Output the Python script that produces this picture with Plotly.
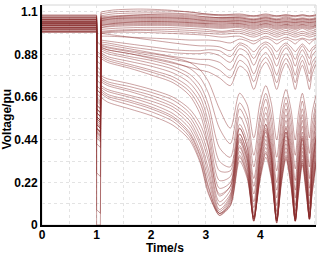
import plotly.graph_objects as go

# ---- time grids ----
T_FAULT = [0.0, 1.0, 1.0, 1.07, 1.08]
T_BAND = [1.08, 1.3, 1.8, 2.3, 2.7, 3.0, 3.3, 3.62, 3.88, 4.1, 4.3, 4.47, 4.64, 4.77, 4.9, 5.02]
T_OSC = [1.08, 1.2, 1.6, 2.0, 2.4, 2.7, 2.9, 3.05, 3.25, 3.45, 3.62, 3.76, 3.88, 4.0, 4.1,
         4.2, 4.3, 4.39, 4.47, 4.56, 4.64, 4.7, 4.77, 4.84, 4.9, 4.95, 5.02]

# ---- upper band buses (pre-fault value, fault value, post-fault curve on T_BAND) ----
BAND_PRE = [1.085, 1.08, 1.075, 1.07, 1.065, 1.06, 1.055, 1.05, 1.045, 1.04, 1.035,
            1.03, 1.025, 1.02, 1.015, 1.01, 1.005, 1.0, 0.995, 1.08, 1.06, 1.045]
BAND_FAULT = [0.9, 0.85, 0.8, 0.78, 0.75, 0.72, 0.7, 0.68, 0.66, 0.64, 0.62,
              0.6, 0.58, 0.56, 0.55, 0.53, 0.52, 0.5, 0.5, 0.95, 0.88, 0.82]
BAND_POST = [
    [1.09, 1.10, 1.105, 1.105, 1.10, 1.09, 1.085, 1.085, 1.08, 1.085, 1.08, 1.085, 1.08, 1.085, 1.08, 1.085],
    [1.08, 1.09, 1.095, 1.095, 1.09, 1.085, 1.08, 1.08, 1.075, 1.08, 1.075, 1.08, 1.075, 1.08, 1.075, 1.08],
    [1.075, 1.08, 1.085, 1.085, 1.08, 1.075, 1.07, 1.075, 1.065, 1.075, 1.065, 1.075, 1.065, 1.07, 1.065, 1.07],
    [1.07, 1.075, 1.08, 1.08, 1.075, 1.07, 1.07, 1.07, 1.06, 1.07, 1.06, 1.07, 1.06, 1.065, 1.06, 1.065],
    [1.065, 1.07, 1.075, 1.075, 1.07, 1.065, 1.065, 1.065, 1.055, 1.065, 1.055, 1.06, 1.055, 1.06, 1.055, 1.06],
    [1.06, 1.065, 1.07, 1.07, 1.065, 1.06, 1.06, 1.06, 1.05, 1.06, 1.05, 1.055, 1.05, 1.055, 1.05, 1.055],
    [1.055, 1.06, 1.065, 1.065, 1.06, 1.055, 1.055, 1.055, 1.045, 1.055, 1.045, 1.05, 1.045, 1.05, 1.045, 1.05],
    [1.05, 1.055, 1.06, 1.06, 1.055, 1.05, 1.05, 1.05, 1.04, 1.05, 1.04, 1.045, 1.04, 1.045, 1.04, 1.045],
    [1.045, 1.05, 1.055, 1.055, 1.05, 1.045, 1.045, 1.045, 1.035, 1.045, 1.035, 1.04, 1.035, 1.04, 1.035, 1.04],
    [1.04, 1.045, 1.05, 1.05, 1.045, 1.04, 1.04, 1.04, 1.03, 1.04, 1.03, 1.035, 1.03, 1.035, 1.03, 1.035],
    [1.035, 1.04, 1.045, 1.045, 1.04, 1.035, 1.03, 1.035, 1.02, 1.035, 1.02, 1.03, 1.02, 1.03, 1.02, 1.03],
    [1.03, 1.035, 1.04, 1.04, 1.035, 1.03, 1.025, 1.03, 1.015, 1.03, 1.015, 1.025, 1.015, 1.025, 1.015, 1.025],
    [1.03, 1.04, 1.05, 1.05, 1.045, 1.04, 1.035, 1.04, 1.025, 1.04, 1.025, 1.035, 1.025, 1.035, 1.025, 1.03],
    [1.02, 1.025, 1.03, 1.03, 1.025, 1.02, 1.015, 1.02, 1.0, 1.02, 1.0, 1.015, 1.0, 1.015, 1.0, 1.01],
    [1.02, 1.03, 1.035, 1.035, 1.03, 1.025, 1.02, 1.025, 1.01, 1.025, 1.01, 1.02, 1.01, 1.02, 1.01, 1.02],
    [1.01, 1.015, 1.02, 1.02, 1.015, 1.01, 1.0, 1.01, 0.99, 1.01, 0.99, 1.005, 0.99, 1.0, 0.99, 1.0],
    [1.0, 1.005, 1.01, 1.01, 1.005, 1.0, 0.995, 1.0, 0.98, 1.0, 0.98, 0.995, 0.98, 0.99, 0.98, 0.99],
    [0.995, 1.0, 1.005, 1.0, 0.995, 0.99, 0.985, 0.99, 0.97, 0.99, 0.97, 0.985, 0.97, 0.98, 0.97, 0.98],
    [0.99, 0.995, 0.995, 0.99, 0.985, 0.98, 0.97, 0.975, 0.95, 0.975, 0.955, 0.97, 0.955, 0.965, 0.955, 0.965],
    [1.1, 1.11, 1.115, 1.11, 1.1, 1.09, 1.085, 1.09, 1.08, 1.09, 1.08, 1.085, 1.08, 1.085, 1.08, 1.085],
    [1.065, 1.075, 1.085, 1.09, 1.085, 1.075, 1.07, 1.07, 1.06, 1.07, 1.06, 1.065, 1.06, 1.065, 1.06, 1.065],
    [1.055, 1.065, 1.07, 1.07, 1.065, 1.055, 1.05, 1.055, 1.045, 1.055, 1.045, 1.05, 1.045, 1.05, 1.045, 1.05],
]

# ---- upper oscillating buses (curves on T_OSC) ----
UP_PRE = [1.03, 1.05, 1.04, 1.02, 1.06, 1.01, 1.035]
UP_FAULT = [0.7, 0.65, 0.62, 0.6, 0.58, 0.56, 0.55]
UP_POST = [
    [0.975, 0.975, 0.97, 0.965, 0.96, 0.955, 0.955, 0.955, 0.95, 0.94, 0.96, 0.95, 0.935, 0.955, 0.965, 0.955, 0.935, 0.95, 0.96, 0.95, 0.935, 0.95, 0.96, 0.95, 0.935, 0.95, 0.96],
    [0.99, 0.985, 0.97, 0.955, 0.94, 0.93, 0.925, 0.925, 0.92, 0.9, 0.94, 0.925, 0.895, 0.93, 0.945, 0.93, 0.895, 0.925, 0.94, 0.92, 0.895, 0.915, 0.935, 0.915, 0.895, 0.915, 0.93],
    [0.955, 0.95, 0.935, 0.92, 0.905, 0.9, 0.9, 0.905, 0.9, 0.87, 0.93, 0.91, 0.86, 0.915, 0.935, 0.91, 0.855, 0.91, 0.93, 0.9, 0.855, 0.895, 0.925, 0.895, 0.86, 0.9, 0.92],
    [0.945, 0.94, 0.92, 0.905, 0.89, 0.885, 0.885, 0.89, 0.875, 0.84, 0.91, 0.89, 0.825, 0.895, 0.92, 0.885, 0.82, 0.885, 0.915, 0.88, 0.82, 0.87, 0.905, 0.87, 0.825, 0.875, 0.9],
    [0.935, 0.93, 0.91, 0.89, 0.87, 0.86, 0.855, 0.855, 0.84, 0.8, 0.88, 0.855, 0.78, 0.86, 0.89, 0.85, 0.775, 0.85, 0.885, 0.845, 0.775, 0.835, 0.875, 0.835, 0.78, 0.84, 0.87],
    [0.925, 0.915, 0.895, 0.875, 0.855, 0.84, 0.83, 0.825, 0.8, 0.76, 0.85, 0.82, 0.74, 0.83, 0.865, 0.82, 0.735, 0.82, 0.86, 0.815, 0.735, 0.8, 0.85, 0.8, 0.74, 0.81, 0.85],
    [0.915, 0.905, 0.885, 0.86, 0.835, 0.815, 0.8, 0.79, 0.76, 0.72, 0.82, 0.79, 0.70, 0.8, 0.84, 0.79, 0.7, 0.79, 0.835, 0.785, 0.7, 0.77, 0.825, 0.77, 0.7, 0.78, 0.83],
]

# ---- middle buses (collapse then oscillate) ----
MID_PRE = [1.05, 1.03, 1.07, 1.02, 1.04, 1.0, 1.06, 1.015]
MID_FAULT = [0.6, 0.58, 0.56, 0.54, 0.52, 0.5, 0.49, 0.48]
MID_POST = [
    [0.93, 0.92, 0.9, 0.885, 0.865, 0.84, 0.8, 0.74, 0.6, 0.5, 0.68, 0.62, 0.45, 0.64, 0.72, 0.63, 0.44, 0.62, 0.7, 0.6, 0.44, 0.58, 0.68, 0.58, 0.45, 0.58, 0.67],
    [0.92, 0.905, 0.885, 0.865, 0.84, 0.81, 0.76, 0.68, 0.5, 0.42, 0.63, 0.56, 0.36, 0.58, 0.68, 0.57, 0.35, 0.56, 0.66, 0.55, 0.36, 0.52, 0.64, 0.52, 0.37, 0.52, 0.63],
    [0.91, 0.895, 0.87, 0.85, 0.82, 0.78, 0.72, 0.62, 0.4, 0.35, 0.6, 0.52, 0.3, 0.54, 0.65, 0.52, 0.28, 0.52, 0.63, 0.5, 0.29, 0.47, 0.6, 0.47, 0.3, 0.47, 0.6],
    [0.9, 0.885, 0.86, 0.835, 0.805, 0.76, 0.69, 0.58, 0.33, 0.3, 0.56, 0.47, 0.24, 0.49, 0.61, 0.47, 0.22, 0.47, 0.6, 0.45, 0.23, 0.42, 0.57, 0.42, 0.24, 0.42, 0.57],
    [0.89, 0.87, 0.845, 0.82, 0.785, 0.735, 0.66, 0.53, 0.28, 0.28, 0.52, 0.43, 0.2, 0.45, 0.58, 0.43, 0.18, 0.43, 0.57, 0.41, 0.18, 0.38, 0.54, 0.38, 0.19, 0.38, 0.54],
    [0.88, 0.86, 0.83, 0.8, 0.765, 0.71, 0.63, 0.49, 0.23, 0.25, 0.5, 0.4, 0.16, 0.42, 0.55, 0.4, 0.14, 0.4, 0.54, 0.38, 0.14, 0.35, 0.51, 0.35, 0.15, 0.35, 0.51],
    [0.87, 0.85, 0.82, 0.79, 0.75, 0.69, 0.6, 0.45, 0.19, 0.22, 0.47, 0.37, 0.12, 0.39, 0.52, 0.37, 0.1, 0.37, 0.51, 0.35, 0.1, 0.32, 0.48, 0.32, 0.11, 0.32, 0.48],
    [0.86, 0.84, 0.81, 0.775, 0.735, 0.67, 0.57, 0.41, 0.16, 0.2, 0.44, 0.34, 0.09, 0.36, 0.49, 0.34, 0.07, 0.34, 0.48, 0.32, 0.07, 0.29, 0.45, 0.29, 0.08, 0.29, 0.45],
]

# ---- lower buses (deep collapse) ----
LOW_PRE = [1.04, 1.02, 1.06, 1.0, 1.05, 1.03, 1.01, 1.07, 0.995, 1.045]
LOW_FAULT = [0.52, 0.5, 0.48, 0.47, 0.46, 0.45, 0.42, 0.27, 0.08, 0.0]
LOW_POST = [
    [0.77, 0.755, 0.73, 0.7, 0.66, 0.6, 0.52, 0.4, 0.15, 0.2, 0.5, 0.4, 0.06, 0.38, 0.52, 0.38, 0.05, 0.36, 0.5, 0.34, 0.05, 0.3, 0.46, 0.3, 0.06, 0.3, 0.46],
    [0.76, 0.74, 0.715, 0.685, 0.645, 0.58, 0.49, 0.36, 0.12, 0.18, 0.47, 0.36, 0.04, 0.36, 0.5, 0.36, 0.03, 0.34, 0.48, 0.32, 0.04, 0.28, 0.44, 0.28, 0.05, 0.28, 0.44],
    [0.75, 0.73, 0.7, 0.67, 0.625, 0.56, 0.46, 0.33, 0.1, 0.16, 0.45, 0.34, 0.03, 0.34, 0.48, 0.34, 0.02, 0.32, 0.46, 0.3, 0.03, 0.26, 0.42, 0.26, 0.04, 0.26, 0.42],
    [0.74, 0.72, 0.69, 0.655, 0.61, 0.54, 0.43, 0.29, 0.08, 0.15, 0.43, 0.32, 0.02, 0.32, 0.46, 0.32, 0.01, 0.3, 0.44, 0.28, 0.02, 0.24, 0.4, 0.24, 0.03, 0.24, 0.4],
    [0.72, 0.7, 0.67, 0.64, 0.595, 0.52, 0.41, 0.26, 0.07, 0.14, 0.41, 0.3, 0.02, 0.3, 0.44, 0.3, 0.01, 0.28, 0.42, 0.26, 0.02, 0.22, 0.38, 0.22, 0.03, 0.22, 0.38],
    [0.71, 0.69, 0.66, 0.625, 0.575, 0.5, 0.38, 0.23, 0.06, 0.13, 0.4, 0.29, 0.02, 0.29, 0.42, 0.29, 0.02, 0.27, 0.4, 0.25, 0.02, 0.21, 0.36, 0.21, 0.03, 0.21, 0.36],
    [0.7, 0.675, 0.645, 0.61, 0.56, 0.48, 0.36, 0.2, 0.05, 0.12, 0.38, 0.27, 0.03, 0.27, 0.4, 0.27, 0.02, 0.25, 0.38, 0.23, 0.02, 0.19, 0.34, 0.19, 0.03, 0.19, 0.34],
    [0.69, 0.665, 0.635, 0.6, 0.55, 0.47, 0.35, 0.19, 0.06, 0.11, 0.36, 0.26, 0.04, 0.26, 0.38, 0.26, 0.03, 0.24, 0.36, 0.22, 0.03, 0.18, 0.33, 0.18, 0.04, 0.18, 0.33],
    [0.68, 0.655, 0.62, 0.585, 0.535, 0.455, 0.33, 0.17, 0.05, 0.1, 0.35, 0.25, 0.03, 0.25, 0.37, 0.25, 0.02, 0.23, 0.35, 0.21, 0.02, 0.17, 0.32, 0.17, 0.03, 0.17, 0.32],
    [0.66, 0.635, 0.6, 0.565, 0.515, 0.44, 0.32, 0.16, 0.06, 0.1, 0.33, 0.24, 0.04, 0.24, 0.35, 0.24, 0.03, 0.22, 0.34, 0.2, 0.03, 0.16, 0.31, 0.16, 0.04, 0.16, 0.31],
]

Y_TICKS = [0, 0.22, 0.44, 0.66, 0.88, 1.1]
Y_TICK_TEXT = ["0", "0.22", "0.44", "0.66", "0.88", "1.1"]
X_TICKS = [0, 1, 2, 3, 4]

LINE_COLOR = "rgba(135,42,42,0.55)"
LW = 0.8

fig = go.Figure()


def add_bus(pre, fault, t_post, post):
    fig.add_trace(go.Scatter(
        x=T_FAULT, y=[pre, pre, fault, fault - 0.02 if fault > 0.02 else fault, post[0]],
        mode="lines", line=dict(color=LINE_COLOR, width=LW), hoverinfo="skip"))
    fig.add_trace(go.Scatter(
        x=t_post, y=post, mode="lines",
        line=dict(color=LINE_COLOR, width=LW, shape="spline", smoothing=0.8),
        hoverinfo="skip"))


for p, f, c in zip(BAND_PRE, BAND_FAULT, BAND_POST):
    add_bus(p, f, T_BAND, c)
for p, f, c in zip(UP_PRE, UP_FAULT, UP_POST):
    add_bus(p, f, T_OSC, c)
for p, f, c in zip(MID_PRE, MID_FAULT, MID_POST):
    add_bus(p, f, T_OSC, c)
for p, f, c in zip(LOW_PRE, LOW_FAULT, LOW_POST):
    add_bus(p, f, T_OSC, c)

FONT = "Liberation Sans, Arial, sans-serif"
GRID = "#e3e3e3"

fig.update_layout(
    width=319, height=256,
    margin=dict(l=42, r=3, t=5, b=31, autoexpand=False),
    paper_bgcolor="white", plot_bgcolor="white",
    showlegend=False,
    font=dict(family=FONT, size=12, color="black"),
    shapes=[dict(type="rect", xref="paper", yref="paper", x0=0, y0=0, x1=1, y1=1,
                 line=dict(color="#d6d6d6", width=1), layer="below")],
    annotations=[
        dict(text="<b>Time/s</b>", x=0.45, y=-0.103, xref="paper", yref="paper",
             xanchor="center", yanchor="middle", showarrow=False, borderpad=0,
             font=dict(family=FONT, size=12, color="black")),
        dict(text="<b>Voltage/pu</b>", x=0, y=0.48, xref="paper", yref="paper",
             xanchor="center", yanchor="middle", xshift=-35, textangle=-90, showarrow=False,
             font=dict(family=FONT, size=12, color="black")),
    ],
)
fig.update_xaxes(
    range=[0, 5.02], tickvals=X_TICKS, showline=True, linecolor="black", linewidth=1.8,
    ticks="", automargin=False, ticklabelstandoff=-2,
    tickfont=dict(family=FONT, size=12, color="black", weight="bold"),
    showgrid=True, gridcolor=GRID, griddash="dot", gridwidth=1, zeroline=False,
    minor=dict(dtick=0.5, tick0=0, showgrid=True, gridcolor=GRID, griddash="dot"),
)
fig.update_yaxes(
    range=[0, 1.136], tickvals=Y_TICKS, ticktext=Y_TICK_TEXT, showline=True,
    linecolor="black", linewidth=1.8, ticks="", automargin=False,
    tickfont=dict(family=FONT, size=12, color="black", weight="bold"),
    showgrid=True, gridcolor=GRID, griddash="dot", gridwidth=1, zeroline=False,
    minor=dict(dtick=0.11, tick0=0, showgrid=True, gridcolor=GRID, griddash="dot"),
)

fig.write_html(
    "out.html",
    config={"displayModeBar": False, "responsive": False},
    post_script="document.body.style.margin='0';document.body.style.padding='0';"
                "document.documentElement.style.overflow='hidden';",
)
